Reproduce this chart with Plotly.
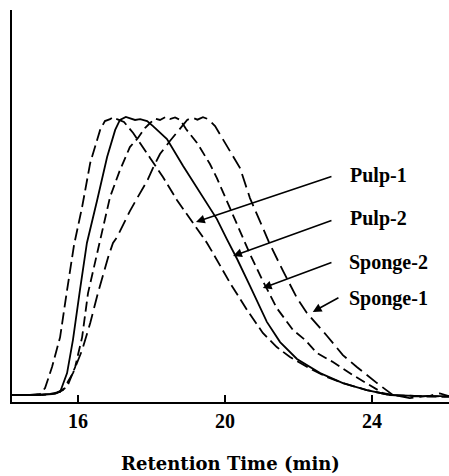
import plotly.graph_objects as go

# Retention time (min) and detector response (peak = 100)
pulp1_t = [14.20, 14.69, 14.97, 15.10, 15.29, 15.51, 15.70, 15.89, 16.11, 16.33, 16.60, 16.73,
           16.87, 16.95, 17.06, 17.25, 17.50, 17.69, 17.96, 18.31, 18.69, 19.13, 19.51, 19.67,
           20.14, 20.60, 21.03, 21.41, 21.77, 22.39, 22.78, 23.21, 23.86, 24.49, 25.31, 26.10]
pulp1_i = [0.0, 0.0, 0.4, 2.5, 10.1, 20.9, 37.9, 54.2, 67.9, 83.8, 95.7, 98.9,
           99.6, 100.3, 99.6, 98.6, 94.6, 91.0, 85.6, 78.7, 70.4, 62.1, 54.9, 51.3,
           40.4, 30.7, 22.4, 17.3, 13.7, 9.0, 6.5, 4.3, 1.8, 0.0, -0.4, -0.5]

pulp2_t = [14.20, 14.83, 15.24, 15.51, 15.70, 15.86, 16.05, 16.24, 16.52, 16.79, 17.01, 17.14,
           17.30, 17.41, 17.55, 17.69, 17.88, 18.04, 18.42, 18.86, 19.32, 19.78, 20.05, 20.33,
           20.68, 21.14, 21.50, 21.96, 22.59, 23.21, 23.86, 24.49, 25.31, 26.10]
pulp2_i = [0.0, 0.0, 0.4, 1.1, 7.9, 19.9, 37.9, 54.9, 70.4, 85.9, 95.7, 99.3,
           100.4, 100.0, 99.3, 99.6, 98.9, 97.1, 92.4, 82.7, 73.3, 63.5, 56.3, 49.1,
           39.4, 26.4, 19.1, 13.0, 7.9, 4.3, 1.8, 0.0, -0.4, -0.4]

sponge2_t = [14.20, 14.97, 15.37, 15.56, 15.70, 15.92, 16.11, 16.27, 16.52, 16.87, 17.14, 17.41,
             17.63, 17.82, 17.96, 18.10, 18.23, 18.37, 18.50, 18.64, 18.78, 18.94, 19.24, 19.59,
             19.78, 20.05, 20.41, 20.68, 21.03, 21.41, 21.85, 22.18, 22.50, 22.94, 23.48, 23.95,
             24.30, 24.76, 26.10]
sponge2_i = [0.0, 0.0, 0.4, 1.8, 2.9, 10.1, 20.9, 36.8, 51.3, 71.5, 81.2, 89.5,
             92.8, 96.4, 98.2, 99.8, 99.3, 100.3, 99.6, 100.2, 99.3, 96.0, 91.0, 83.4,
             78.3, 70.0, 59.2, 50.9, 41.2, 31.4, 23.5, 19.9, 15.2, 11.9, 7.2, 3.6,
             0.7, -0.4, -0.7]

sponge1_t = [14.20, 14.97, 15.37, 15.59, 15.86, 16.11, 16.33, 16.54, 16.82, 16.95, 17.06, 17.41,
             17.61, 17.88, 18.04, 18.23, 18.50, 18.78, 18.97, 19.10, 19.25, 19.40, 19.54, 19.73,
             20.14, 20.41, 20.68, 20.95, 21.22, 21.58, 21.96, 22.23, 22.78, 23.21, 23.59, 24.14,
             24.57, 25.03, 25.60, 25.85, 26.10]
sponge1_i = [0.0, 0.0, 0.4, 1.8, 7.9, 16.2, 26.0, 36.8, 49.8, 54.9, 57.0, 66.4,
             71.1, 77.3, 82.0, 87.0, 91.7, 96.4, 99.3, 100.2, 99.4, 100.3, 99.6, 97.1,
             88.1, 81.9, 71.1, 62.8, 54.5, 44.8, 35.0, 29.6, 21.3, 14.4, 10.1, 4.3,
             0.0, -1.1, -0.2, 0.6, -0.4]

series = [
    ("Pulp-1", pulp1_t, pulp1_i, "12px,5px"),
    ("Pulp-2", pulp2_t, pulp2_i, "solid"),
    ("Sponge-2", sponge2_t, sponge2_i, "10px,5px"),
    ("Sponge-1", sponge1_t, sponge1_i, "14px,6px"),
]

x_ticks = [16, 20, 24]

# label anchor (left edge), arrow tail and arrow tip, in data units
labels = ["Pulp-1", "Pulp-2", "Sponge-2", "Sponge-1"]
label_t = [23.35, 23.35, 23.32, 23.32]
label_i = [79.4, 63.9, 48.0, 35.0]
tail_t = [22.94, 22.94, 22.94, 23.13]
tail_i = [79.1, 63.2, 48.0, 35.4]
tip_t = [19.21, 20.22, 21.03, 22.39]
tip_i = [62.5, 50.2, 38.6, 30.0]

fig = go.Figure()
for name, t, inten, dash in series:
    fig.add_trace(go.Scatter(x=t, y=inten, mode="lines", name=name,
                             line=dict(color="black", width=1.8, dash=dash)))

serif = "Liberation Serif, Times New Roman, serif"
annotations = []
for k in range(len(labels)):
    annotations.append(dict(x=label_t[k], y=label_i[k], xref="x", yref="y", text=labels[k],
                            showarrow=False, xanchor="left", yanchor="middle",
                            font=dict(family=serif, size=20, color="black", weight="bold")))
    annotations.append(dict(x=tip_t[k], y=tip_i[k], ax=tail_t[k], ay=tail_i[k],
                            xref="x", yref="y", axref="x", ayref="y", text="",
                            showarrow=True, arrowhead=2, arrowsize=1.1, arrowwidth=1.6,
                            arrowcolor="black", standoff=0, startstandoff=0))

fig.update_layout(
    width=449, height=476,
    margin=dict(l=12, r=0, t=10, b=74),
    paper_bgcolor="white", plot_bgcolor="white",
    showlegend=False,
    annotations=annotations,
    xaxis=dict(range=[14.2, 26.1], showline=True, linewidth=2, linecolor="black",
               ticks="inside", ticklen=7, tickwidth=1.5, tickcolor="black",
               tickvals=x_ticks, ticktext=[str(v) for v in x_ticks],
               tickfont=dict(family=serif, size=20, color="black", weight="bold"),
               showgrid=False, zeroline=False,
               title=dict(text="Retention Time (min)", standoff=26,
                          font=dict(family="DejaVu Serif, serif", size=18, color="black", weight="bold"))),
    yaxis=dict(range=[-2.53, 139.0], showline=True, linewidth=2, linecolor="black",
               showticklabels=False, ticks="", showgrid=False, zeroline=False),
)

fig.write_html("out.html")
